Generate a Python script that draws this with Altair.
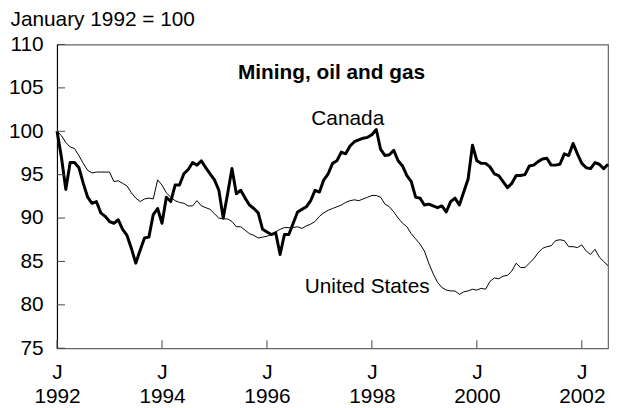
import altair as alt
import pandas as pd

canada = [
    100.0, 97.0, 93.3, 96.4, 96.4, 95.8, 94.0, 92.4, 91.7, 91.9, 90.6, 90.2,
    89.6, 89.4, 89.8, 88.7, 88.0, 86.5, 84.8, 86.3, 87.7, 87.8, 90.4, 91.1,
    89.4, 92.4, 91.9, 93.8, 93.8, 95.1, 95.6, 96.4, 96.1, 96.6, 95.8, 95.1,
    94.4, 93.2, 90.0, 92.8, 95.7, 92.8, 93.2, 92.3, 91.5, 91.1, 90.6, 88.7,
    88.4, 88.1, 88.3, 85.8, 88.1, 88.1, 89.4, 90.7, 91.0, 91.3, 92.0, 93.2,
    93.0, 94.4, 95.1, 96.3, 96.6, 97.6, 97.4, 98.3, 98.8, 99.0, 99.2, 99.3,
    99.6, 100.2, 97.9, 97.2, 97.3, 97.8, 96.6, 96.0, 94.9, 94.2, 92.4, 92.3,
    91.5, 91.6, 91.4, 91.2, 91.4, 90.7, 91.9, 92.3, 91.5, 93.0, 94.5, 98.4,
    96.6, 96.3, 96.3, 95.9, 95.1, 94.9, 94.2, 93.5, 94.0, 94.9, 94.9, 95.0,
    96.0, 96.1, 96.5, 96.8, 96.9, 96.1, 96.1, 96.2, 97.4, 97.2, 98.6, 97.4,
    96.3, 95.8, 95.7, 96.4, 96.2, 95.7, 96.2,
]

united_states = [
    100.0, 99.5, 98.7, 98.2, 98.0, 97.2, 96.3, 95.5, 95.2, 95.3, 95.3, 95.3,
    95.3, 94.2, 94.3, 94.0, 93.7, 92.9, 92.3, 91.9, 92.2, 92.3, 92.2, 94.4,
    93.8, 92.9, 92.4, 92.0, 91.8, 91.7, 91.4, 91.4, 92.0, 91.4, 91.2, 91.0,
    90.5, 90.0, 89.9, 89.9, 89.6, 89.0, 89.0, 88.6, 88.2, 88.0, 87.7, 87.8,
    87.9, 88.1, 88.4, 88.7, 88.9, 88.9, 88.9, 89.0, 88.8, 89.1, 89.3, 89.6,
    90.2, 90.6, 90.9, 91.1, 91.3, 91.5, 91.8, 92.0, 92.1, 92.0, 92.2, 92.4,
    92.6, 92.6, 92.4, 91.6, 91.3, 90.7, 90.0, 89.4, 89.0, 88.2, 87.6, 87.0,
    86.2, 84.8, 83.6, 82.6, 82.0, 81.7, 81.6, 81.6, 81.2, 81.5, 81.6, 81.8,
    81.7, 81.9, 81.8, 82.7, 83.1, 83.0, 83.3, 83.4, 83.9, 84.8, 84.3, 84.3,
    84.8, 85.3, 86.0, 86.5, 86.7, 86.8, 87.4, 87.5, 87.4, 86.7, 86.7, 86.6,
    86.9, 86.2, 85.8, 86.4, 85.5, 85.0, 84.5,
]

start_year = 1992
x_ticks = [1992, 1994, 1996, 1998, 2000, 2002]
y_ticks = [75, 80, 85, 90, 95, 100, 105, 110]

labels_text = ["Mining, oil and gas", "Canada", "United States"]
labels_x = [1997.23, 1997.54, 1997.91]
labels_y = [106.7, 101.4, 82.0]
labels_weight = ["bold", "normal", "normal"]

FONT = "Liberation Sans"
FS = 21
W, H = 556, 306.5

n = len(canada)
t = [start_year + i / 12 for i in range(n)]
df = pd.DataFrame({
    "t": t * 2,
    "v": canada + united_states,
    "series": ["Canada"] * n + ["United States"] * n,
})

xscale = alt.Scale(domain=[start_year, start_year + (n - 1) / 12], nice=False, zero=False)
yscale = alt.Scale(domain=[75, 110], nice=False, zero=False)

base = alt.Chart(df)

lines = base.mark_line(color="black", strokeJoin="round").encode(
    x=alt.X("t:Q", scale=xscale,
            axis=alt.Axis(values=x_ticks, format="d", labelExpr="['J', datum.label]",
                          ticks=False, grid=False, labelFont=FONT, labelFontSize=FS,
                          labelColor="black", labelLineHeight=24, labelPadding=14,
                          domainColor="#666666", domainWidth=1.2, title=None,
                          labelFlush=False, labelOverlap=False)),
    y=alt.Y("v:Q", scale=yscale,
            axis=alt.Axis(values=y_ticks, ticks=False, grid=False, labelFont=FONT,
                          labelFontSize=FS, labelColor="black", labelPadding=14,
                          domainColor="black", domainWidth=1,
                          title="January 1992 = 100", titleAngle=0, titleFont=FONT,
                          titleFontSize=FS, titleFontWeight="normal", titleColor="black",
                          titleAlign="left", titleBaseline="middle",
                          titleX=-47.5, titleY=-25, labelFlush=False, labelOverlap=False)),
    strokeWidth=alt.StrokeWidth("series:N",
                                scale=alt.Scale(domain=["Canada", "United States"], range=[3, 1]),
                                legend=None),
    detail="series:N",
)

ytick_df = pd.DataFrame({"v": y_ticks})
yticks = alt.Chart(ytick_df).mark_rule(color="#444444", strokeWidth=1).encode(
    y=alt.Y("v:Q", scale=yscale),
    x=alt.value(0),
    x2=alt.value(8),
)

xtick_df = pd.DataFrame({"t": x_ticks})
xticks = alt.Chart(xtick_df).mark_rule(color="#444444", strokeWidth=1).encode(
    x=alt.X("t:Q", scale=xscale),
    y=alt.value(H - 8),
    y2=alt.value(H),
)

ann_df = pd.DataFrame({"text": labels_text, "t": labels_x, "v": labels_y, "w": labels_weight})
ann_bold = alt.Chart(ann_df[ann_df.w == "bold"]).mark_text(
    font=FONT, fontSize=FS, fontWeight="bold", color="black", baseline="middle", align="center"
).encode(x=alt.X("t:Q", scale=xscale), y=alt.Y("v:Q", scale=yscale), text="text:N")
ann_norm = alt.Chart(ann_df[ann_df.w == "normal"]).mark_text(
    font=FONT, fontSize=FS, color="black", baseline="middle", align="center"
).encode(x=alt.X("t:Q", scale=xscale), y=alt.Y("v:Q", scale=yscale), text="text:N")

chart = alt.layer(lines, yticks, xticks, ann_bold, ann_norm).properties(
    width=W, height=H,
    autosize=alt.AutoSizeParams(type="none"),
    padding={"left": 49.5, "top": 35, "right": 5, "bottom": 58},
).configure_view(stroke="#666666", strokeWidth=1.2)

chart.save("out.html", embed_options={"renderer": "svg", "actions": False})
